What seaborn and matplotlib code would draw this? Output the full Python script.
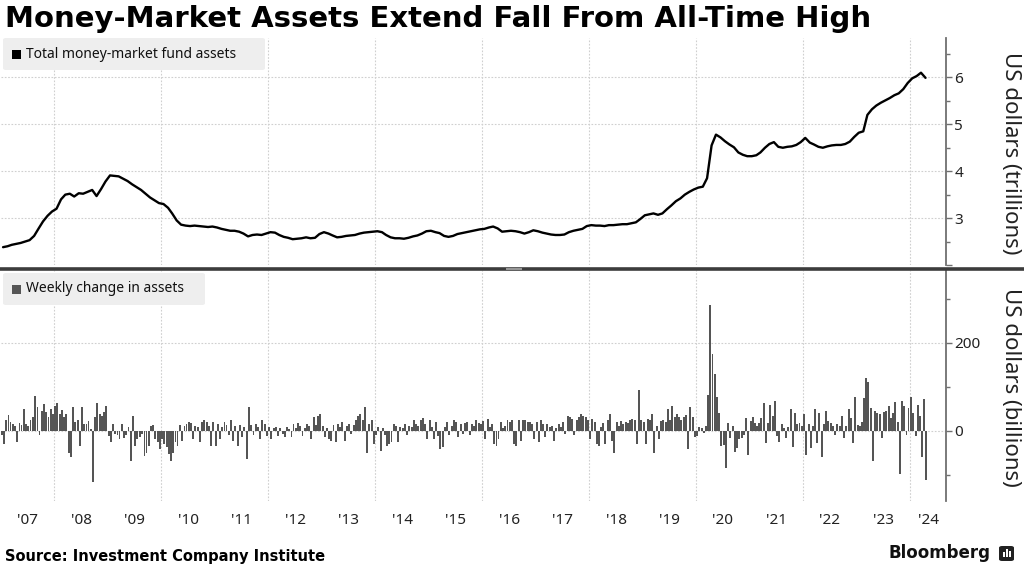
import numpy as np
import pandas as pd
import matplotlib
matplotlib.use("Agg")
import matplotlib.pyplot as plt
import seaborn as sns
from matplotlib.patches import FancyBboxPatch, Rectangle
from matplotlib.lines import Line2D

# ---------------- data ----------------
title = "Money-Market Assets Extend Fall From All-Time High"
source = "Source: Investment Company Institute"
legend_top = "Total money-market fund assets"
legend_bottom = "Weekly change in assets"
ylabel_top = "US dollars (trillions)"
ylabel_bottom = "US dollars (billions)"
year_labels = ["'07", "'08", "'09", "'10", "'11", "'12", "'13", "'14", "'15",
               "'16", "'17", "'18", "'19", "'20", "'21", "'22", "'23", "'24"]

# Total assets, US$ trillions, monthly (mid-month) Jan 2007 - Apr 2024
assets_trillions = [
    2.38, 2.40, 2.43, 2.45, 2.47, 2.50, 2.53, 2.62, 2.78, 2.93, 3.05, 3.14,  # 2007
    3.20, 3.40, 3.50, 3.52, 3.46, 3.53, 3.52, 3.56, 3.60, 3.47, 3.62, 3.78,  # 2008
    3.91, 3.90, 3.89, 3.84, 3.79, 3.72, 3.66, 3.60, 3.52, 3.44, 3.38, 3.32,  # 2009
    3.30, 3.22, 3.10, 2.95, 2.86, 2.84, 2.83, 2.84, 2.83, 2.82, 2.81, 2.82,  # 2010
    2.80, 2.77, 2.75, 2.73, 2.73, 2.71, 2.67, 2.61, 2.64, 2.65, 2.64, 2.67,  # 2011
    2.70, 2.69, 2.64, 2.60, 2.58, 2.55, 2.56, 2.57, 2.59, 2.57, 2.58, 2.66,  # 2012
    2.70, 2.67, 2.63, 2.59, 2.60, 2.62, 2.63, 2.64, 2.67, 2.69, 2.70, 2.71,  # 2013
    2.72, 2.70, 2.64, 2.59, 2.57, 2.57, 2.56, 2.58, 2.61, 2.63, 2.67, 2.72,  # 2014
    2.73, 2.70, 2.68, 2.62, 2.60, 2.62, 2.66, 2.68, 2.70, 2.72, 2.74, 2.76,  # 2015
    2.77, 2.80, 2.82, 2.78, 2.71, 2.72, 2.73, 2.72, 2.70, 2.67, 2.70, 2.74,  # 2016
    2.72, 2.69, 2.67, 2.65, 2.64, 2.64, 2.65, 2.70, 2.73, 2.75, 2.77, 2.83,  # 2017
    2.85, 2.84, 2.84, 2.83, 2.85, 2.85, 2.86, 2.87, 2.87, 2.89, 2.91, 2.98,  # 2018
    3.06, 3.08, 3.10, 3.07, 3.10, 3.19, 3.27, 3.36, 3.42, 3.50, 3.56, 3.61,  # 2019
    3.65, 3.67, 3.85, 4.55, 4.78, 4.72, 4.64, 4.57, 4.51, 4.40, 4.35, 4.32,  # 2020
    4.32, 4.34, 4.40, 4.50, 4.58, 4.62, 4.52, 4.50, 4.52, 4.53, 4.56, 4.62,  # 2021
    4.71, 4.61, 4.57, 4.52, 4.50, 4.53, 4.55, 4.56, 4.56, 4.58, 4.63, 4.73,  # 2022
    4.82, 4.85, 5.20, 5.32, 5.40, 5.46, 5.51, 5.56, 5.62, 5.66, 5.75, 5.88,  # 2023
    5.98, 6.03, 6.10, 5.99,                                                  # 2024
]

# Change in assets, US$ billions, two readings per month Jan 2007 - Apr 2024
change_billions = [
    -10, -30, 25, 35, 20, 15, 10, -25, 17, 12, 50, 15, 10, 23, 30, 78, 54, -11, 44, 60, 42, 30, 50, 38,  # 2007
    55, 62, 38, 46, 30, 38, -50, -60, 54, 19, 25, -35, 54, 15, 15, 22, 4, -116, 30, 63, 38, 34, 42, 57,  # 2008
    -12, -27, 15, -8, -10, -19, 14, -16, -10, 8, -69, 34, -35, -19, -14, -8, -57, -50, -35, 10, 12, -20, -27, -42,  # 2009
    -20, -30, -38, -54, -69, -50, -25, -35, 12, -23, 10, 15, 19, 17, -19, 10, 8, -27, 19, 24, 19, 10, -35, 19,  # 2010
    -35, 15, -19, 8, 19, 13, -10, 23, -23, 10, -35, 12, -15, 8, -65, 54, 12, -11, 15, 9, -19, 25, 15, -12,  # 2011
    8, -19, 6, 8, -12, 5, -8, -15, 8, 4, -15, 15, 6, 17, 11, -12, 6, 15, 10, -19, 30, 12, 34, 38,  # 2012
    10, -15, 6, -19, -23, 12, -27, 15, 8, 19, -23, 10, 15, -8, 12, 23, 34, 38, 25, 54, -50, 15, 25, -30,  # 2013
    -11, 9, -46, 6, -10, -34, -30, -27, 15, 11, -27, 8, 5, 15, -11, 11, 8, 25, 15, 10, 23, 29, 15, -19,  # 2014
    25, 8, -19, 19, -12, -42, -38, 8, 19, -10, 11, 25, 19, -15, 15, -8, 17, 19, -10, 15, 11, 23, 17, 15,  # 2015
    21, -19, 27, 8, 15, -30, -34, -19, 19, 6, 11, 25, 19, 23, -30, -35, 25, -23, 23, 25, 19, 19, 15, -19,  # 2016
    19, -27, 23, 15, -15, 15, 8, 11, -23, 6, 15, 8, 19, -8, 34, 30, 27, -11, 23, 30, 38, 34, 30, 25,  # 2017
    -19, 27, 19, -30, -35, 8, 17, -30, 25, 38, -23, -50, 19, 11, 21, 15, 19, 17, 25, 27, 23, -30, 92, 23,  # 2018
    19, -30, 27, 23, 38, -52, 10, -19, 21, 23, 19, 50, 23, 57, 31, 38, 30, 25, 30, 35, -42, 54, 30, -15,  # 2019
    -12, 8, 6, -5, 10, 80, 285, 173, 128, 77, 40, -34, -32, -85, 18, -17, 10, -49, -40, -20, -17, -10, 29, -55,  # 2020
    22, 31, 18, 10, 18, 29, 62, -28, 18, 58, 33, 68, -13, -25, 14, 6, -17, 8, 48, -38, 41, 14, 18, 10,  # 2021
    37, -55, 14, -40, 10, 48, -28, 41, -59, 14, 45, 22, 18, 10, -9, 14, 10, 33, -17, 10, 48, 29, -28, 77,  # 2022
    12, 10, 20, 75, 120, 110, 52, -69, 45, 41, 37, -17, 43, 45, 56, 29, 41, 64, 20, -98, 68, 56, -10, 52,  # 2023
    77, 40, -13, 58, 33, -59, 72, -112,  # 2024
]

# ---------------- dates -> decimal years ----------------
def decimal_year(d):
    d = pd.DatetimeIndex(d)
    days = np.where(d.is_leap_year, 366, 365)
    return d.year + (d.dayofyear - 1) / days

line_dates = pd.date_range("2007-01-01", periods=len(assets_trillions), freq="MS") + pd.Timedelta(days=14)
bar_dates = pd.date_range("2007-01-01", periods=len(change_billions), freq="SMS") + pd.Timedelta(days=6)
t_line = np.asarray(decimal_year(line_dates), dtype=float)
t_bar = np.asarray(decimal_year(bar_dates), dtype=float)

# ---------------- figure ----------------
sns.set_theme(style="white")
plt.rcParams["font.family"] = ["Noto Sans", "DejaVu Sans"]

W, H = 1024, 566
fig = plt.figure(figsize=(W / 100, H / 100), dpi=100)
fig.patch.set_facecolor("white")


def fx(px):
    return px / W


def fy(py):
    return 1 - py / H


ax1 = fig.add_axes([fx(1), fy(265), fx(945), (265 - 38) / H])
ax2 = fig.add_axes([fx(1), fy(501), fx(945), (501 - 270) / H])

sns.lineplot(x=t_line, y=assets_trillions, ax=ax1, color="black",
             linewidth=1.7, estimator=None, sort=False)
sns.barplot(x=t_bar, y=change_billions, ax=ax2, native_scale=True,
            color="#555555", width=0.92, errorbar=None, saturation=1,
            linewidth=0)

XMIN, XMAX = 2007.0, 2024.67
grid_years = list(range(2008, 2025, 2))
label_pos = [y + 0.5 for y in range(2007, 2024)] + [2024 + (XMAX - 2024) / 2]

grid_kw = dict(color="#cfcfcf", linestyle=(0, (1.5, 1.5)), linewidth=0.8)

for ax in (ax1, ax2):
    ax.set_facecolor("white")
    ax.set_xlim(XMIN, XMAX)
    for s in ("top", "left", "bottom"):
        ax.spines[s].set_visible(False)
    ax.spines["right"].set_color("#707070")
    ax.spines["right"].set_linewidth(1.3)
    ax.yaxis.tick_right()
    ax.tick_params(axis="y", which="both", direction="out", length=4,
                   width=1, color="#707070", labelsize=11, pad=2,
                   labelcolor="#222222")
    ax.tick_params(axis="y", which="minor", length=3)
    ax.set_xticks(grid_years)
    ax.tick_params(axis="x", which="major", length=0, labelbottom=False)
    ax.grid(True, which="major", **grid_kw)
    ax.set_xlabel("")
    ax.set_ylabel("")
    ax.set_axisbelow(True)

ax1.set_ylim(2.0, 6.84)
ax1.set_yticks([2, 3, 4, 5, 6], ["", "3", "4", "5", "6"])
ax1.set_yticks([2.5, 3.5, 4.5, 5.5, 6.5], minor=True)

ax2.set_ylim(-160, 365)
ax2.set_yticks([0, 200], ["0", "200"])
ax2.set_yticks([-100, 100, 300], minor=True)
ax2.set_xticks(label_pos, year_labels, minor=True)
ax2.tick_params(axis="x", which="minor", length=0, labelbottom=True,
                labelsize=11, pad=9, labelcolor="#222222")

# divider bar between panels
fig.add_artist(Line2D([0, 1], [fy(268.5), fy(268.5)], transform=fig.transFigure,
                      color="#3c3c3c", linewidth=2.6, solid_capstyle="butt"))
fig.add_artist(Line2D([fx(506), fx(522)], [fy(268.5), fy(268.5)], transform=fig.transFigure,
                      color="#9a9a9a", linewidth=1.4, solid_capstyle="butt"))

# legend boxes
def legend_box(x0, y0, x1, y1, color, text):
    fig.add_artist(FancyBboxPatch((fx(x0), fy(y1)), fx(x1 - x0), (y1 - y0) / H,
                                  boxstyle="round,pad=0,rounding_size=0.003",
                                  transform=fig.transFigure, fc="#eeeeee",
                                  ec="none", zorder=5))
    yc = (y0 + y1) / 2
    fig.add_artist(Rectangle((fx(12), fy(yc + 4.5)), fx(9), 9 / H,
                             transform=fig.transFigure, fc=color, ec="none",
                             zorder=6))
    fig.text(fx(26), fy(yc), text, fontsize=10, va="center", ha="left",
             color="#111111", zorder=7)


legend_box(3, 38, 265, 70, "black", legend_top)
legend_box(3, 273, 205, 305, "#555555", legend_bottom)

# titles / labels
fig.text(fx(5), fy(19), title, fontsize=21, fontweight="bold",
         family="DejaVu Sans", va="center", ha="left", color="black")
fig.text(fx(5), fy(556), source, fontsize=10.5, fontweight="bold",
         family="DejaVu Sans", va="center", ha="left", color="black")
fig.text(fx(1011), fy(153), ylabel_top, rotation=270, fontsize=16,
         va="center", ha="center", color="#222222")
fig.text(fx(1011), fy(387), ylabel_bottom, rotation=270, fontsize=16,
         va="center", ha="center", color="#222222")

# Bloomberg wordmark
fig.text(fx(991), fy(553), "Bloomberg", fontsize=12, fontweight="bold",
         family="DejaVu Sans", va="center", ha="right", color="#111111")
fig.add_artist(FancyBboxPatch((fx(999), fy(561)), fx(15), 15 / H,
                              boxstyle="round,pad=0,rounding_size=0.003",
                              transform=fig.transFigure, fc="#222222", ec="none"))
for bx, bh in ((1002.5, 5), (1005.5, 8), (1008.5, 6)):
    fig.add_artist(Rectangle((fx(bx), fy(557)), fx(2), bh / H,
                             transform=fig.transFigure, fc="white", ec="none"))

fig.savefig("out.png", dpi=100, facecolor="white")
